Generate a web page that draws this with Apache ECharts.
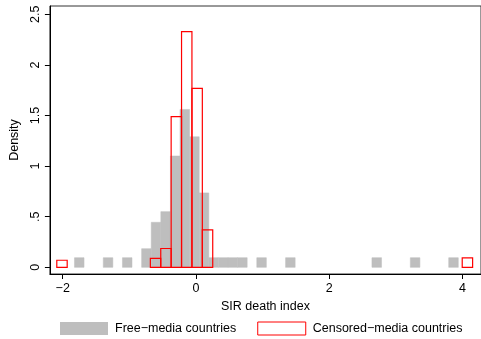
<!DOCTYPE html>
<html>
<head>
<meta charset="utf-8">
<script src="https://cdn.jsdelivr.net/npm/echarts@6/dist/echarts.min.js"></script>
<style>html,body{margin:0;padding:0;background:#fff;}#c{width:481px;height:339px;}</style>
</head>
<body>
<div id="c"></div>
<script>
// Free-media countries: histogram bin lower edges and densities (bin width 0.144)
const freeBinWidth = 0.144;
const freeBinStart = [-1.824, -1.392, -1.104, -0.816, -0.672, -0.528, -0.384, -0.240, -0.096, 0.048, 0.192, 0.336, 0.480, 0.624, 0.912, 1.344, 2.640, 3.216, 3.792];
const freeDensity  = [0.095, 0.095, 0.095, 0.184, 0.445, 0.55, 1.10, 1.56, 1.29, 0.735, 0.095, 0.095, 0.095, 0.095, 0.095, 0.095, 0.095, 0.095, 0.095];
// Censored-media countries: histogram bin lower edges and densities (bin width 0.156)
const censBinWidth = 0.156;
const censBinStart = [-2.089, -0.685, -0.529, -0.373, -0.217, -0.061, 0.095, 3.995];
const censDensity  = [0.07, 0.088, 0.186, 1.488, 2.328, 1.769, 0.369, 0.093];
// Axis ticks
const xTicks = [-2, 0, 2, 4];
const yTicks = [0, 0.5, 1, 1.5, 2, 2.5];
const yTickLabels = ['0', '.5', '1', '1.5', '2', '2.5'];
const seriesNames = ['Free\u2212media countries', 'Censored\u2212media countries'];

const freeData = freeBinStart.map((s, i) => [s, s + freeBinWidth, freeDensity[i]]);
const censData = censBinStart.map((s, i) => [s, s + censBinWidth, censDensity[i]]);

function makeRender(styleFn) {
  return function (params, api) {
    const p0 = api.coord([api.value(0), api.value(2)]);
    const p1 = api.coord([api.value(1), 0]);
    return {
      type: 'rect',
      shape: { x: p0[0], y: p0[1], width: p1[0] - p0[0], height: p1[1] - p0[1] },
      style: styleFn()
    };
  };
}

const font = 'Liberation Sans';
const fs = 12.5;
const chart = echarts.init(document.getElementById('c'), null, { renderer: 'canvas' });
chart.setOption({
  animation: false,
  backgroundColor: '#fff',
  grid: { left: 46, right: -2, top: 6, bottom: 65, show: true, borderColor: '#333', borderWidth: 1, backgroundColor: 'transparent' },
  xAxis: {
    type: 'value', min: -2.1925, max: 4.2768,
    name: 'SIR death index', nameLocation: 'middle', nameGap: 21,
    nameTextStyle: { fontFamily: font, fontSize: fs, color: '#000' },
    axisLine: { show: true, onZero: false, lineStyle: { color: '#000', width: 1 } },
    axisTick: { show: true, length: 5, customValues: xTicks, lineStyle: { color: '#000' } },
    axisLabel: { customValues: xTicks, margin: 8, fontFamily: font, fontSize: fs, color: '#000',
      formatter: v => (v < 0 ? '\u2212' + Math.abs(v) : String(v)) },
    splitLine: { show: false }
  },
  yAxis: {
    type: 'value', min: -0.066, max: 2.582,
    name: 'Density', nameLocation: 'middle', nameGap: 24, nameRotate: 90,
    nameTextStyle: { fontFamily: font, fontSize: fs, color: '#000' },
    axisLine: { show: true, onZero: false, lineStyle: { color: '#000', width: 1 } },
    axisTick: { show: true, length: 5, customValues: yTicks, lineStyle: { color: '#000' } },
    axisLabel: { customValues: yTicks, rotate: 90, margin: 8, fontFamily: font, fontSize: fs, color: '#000',
      formatter: v => yTickLabels[yTicks.indexOf(+v.toFixed(1))] ?? String(v) },
    splitLine: { show: false }
  },
  legend: {
    left: 60, top: 321.5, padding: 0, itemWidth: 48, itemHeight: 13, itemGap: 21,
    textStyle: { fontFamily: font, fontSize: fs, color: '#000', padding: [0, 0, 0, 2] },
    data: [
      { name: seriesNames[0], icon: 'rect', itemStyle: { color: '#bebebe', borderWidth: 0 } },
      { name: seriesNames[1], icon: 'rect', itemStyle: { color: '#fff', borderColor: '#ff0000', borderWidth: 1 } }
    ]
  },
  series: [
    { name: seriesNames[0], type: 'custom', data: freeData, itemStyle: { color: '#bebebe' },
      renderItem: makeRender(() => ({ fill: '#bebebe', stroke: '#bebebe', lineWidth: 0.5 })) },
    { name: seriesNames[1], type: 'custom', data: censData, itemStyle: { color: '#fff', borderColor: '#ff0000' },
      renderItem: makeRender(() => ({ fill: 'none', stroke: '#ff0000', lineWidth: 1.2 })) }
  ]
});
</script>
</body>
</html>
